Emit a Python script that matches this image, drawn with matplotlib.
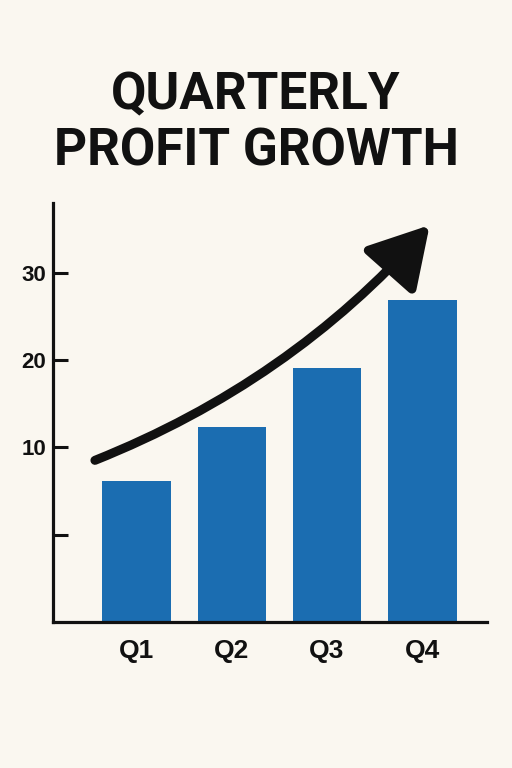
import matplotlib.pyplot as plt
from matplotlib.patches import FancyArrowPatch

# datos
quarters = ["Q1", "Q2", "Q3", "Q4"]
profit = [6.1, 12.3, 19.1, 26.9]
yticks = [0, 10, 20, 30]
ytick_labels = ["", "10", "20", "30"]
title_lines = ["QUARTERLY", "PROFIT GROWTH"]

bg = "#faf7f0"
bar_color = "#1b6db1"
ink = "#111111"
ymin, ymax = -10, 38

fig = plt.figure(figsize=(5.12, 7.68), dpi=100, facecolor=bg)
ax = fig.add_axes([53 / 512, 1 - 622 / 768, (487 - 53) / 512, (622 - 203) / 768])
ax.set_facecolor(bg)

x = list(range(len(quarters)))
heights = [v - ymin for v in profit]
ax.bar(x, heights, bottom=ymin, width=0.726, color=bar_color, zorder=2)

ax.set_xlim(-0.884, 3.684)
ax.set_ylim(ymin, ymax)

for s in ["top", "right"]:
    ax.spines[s].set_visible(False)
for s in ["left", "bottom"]:
    ax.spines[s].set_linewidth(2.3)
    ax.spines[s].set_color(ink)

ax.set_yticks(yticks)
ax.set_yticklabels(ytick_labels)
ax.set_xticks(x)
ax.set_xticklabels(quarters)
ax.tick_params(axis="y", direction="in", length=11, width=2.2, color=ink, pad=5,
               labelsize=16, labelcolor=ink)
ax.tick_params(axis="x", length=0, pad=12, labelsize=19, labelcolor=ink)
for lab in ax.get_yticklabels() + ax.get_xticklabels():
    lab.set_fontfamily("Liberation Sans")
    lab.set_fontweight("bold")

# flecha de crecimiento
arrow = FancyArrowPatch((-0.47, 8.4), (3.1, 35.7),
                        connectionstyle="arc3,rad=0.12",
                        arrowstyle="-|>,head_length=2.6,head_width=1.5",
                        mutation_scale=14, lw=6.5, color=ink, zorder=3)
ax.add_patch(arrow)

# titulo
fig.text(0.5, 1 - 95 / 768, title_lines[0], ha="center", va="center",
         fontsize=37, fontweight="bold", family="Roboto", color=ink)
fig.text(0.5, 1 - 151 / 768, title_lines[1], ha="center", va="center",
         fontsize=37, fontweight="bold", family="Roboto", color=ink)

fig.savefig("out.png", dpi=100, facecolor=bg)
